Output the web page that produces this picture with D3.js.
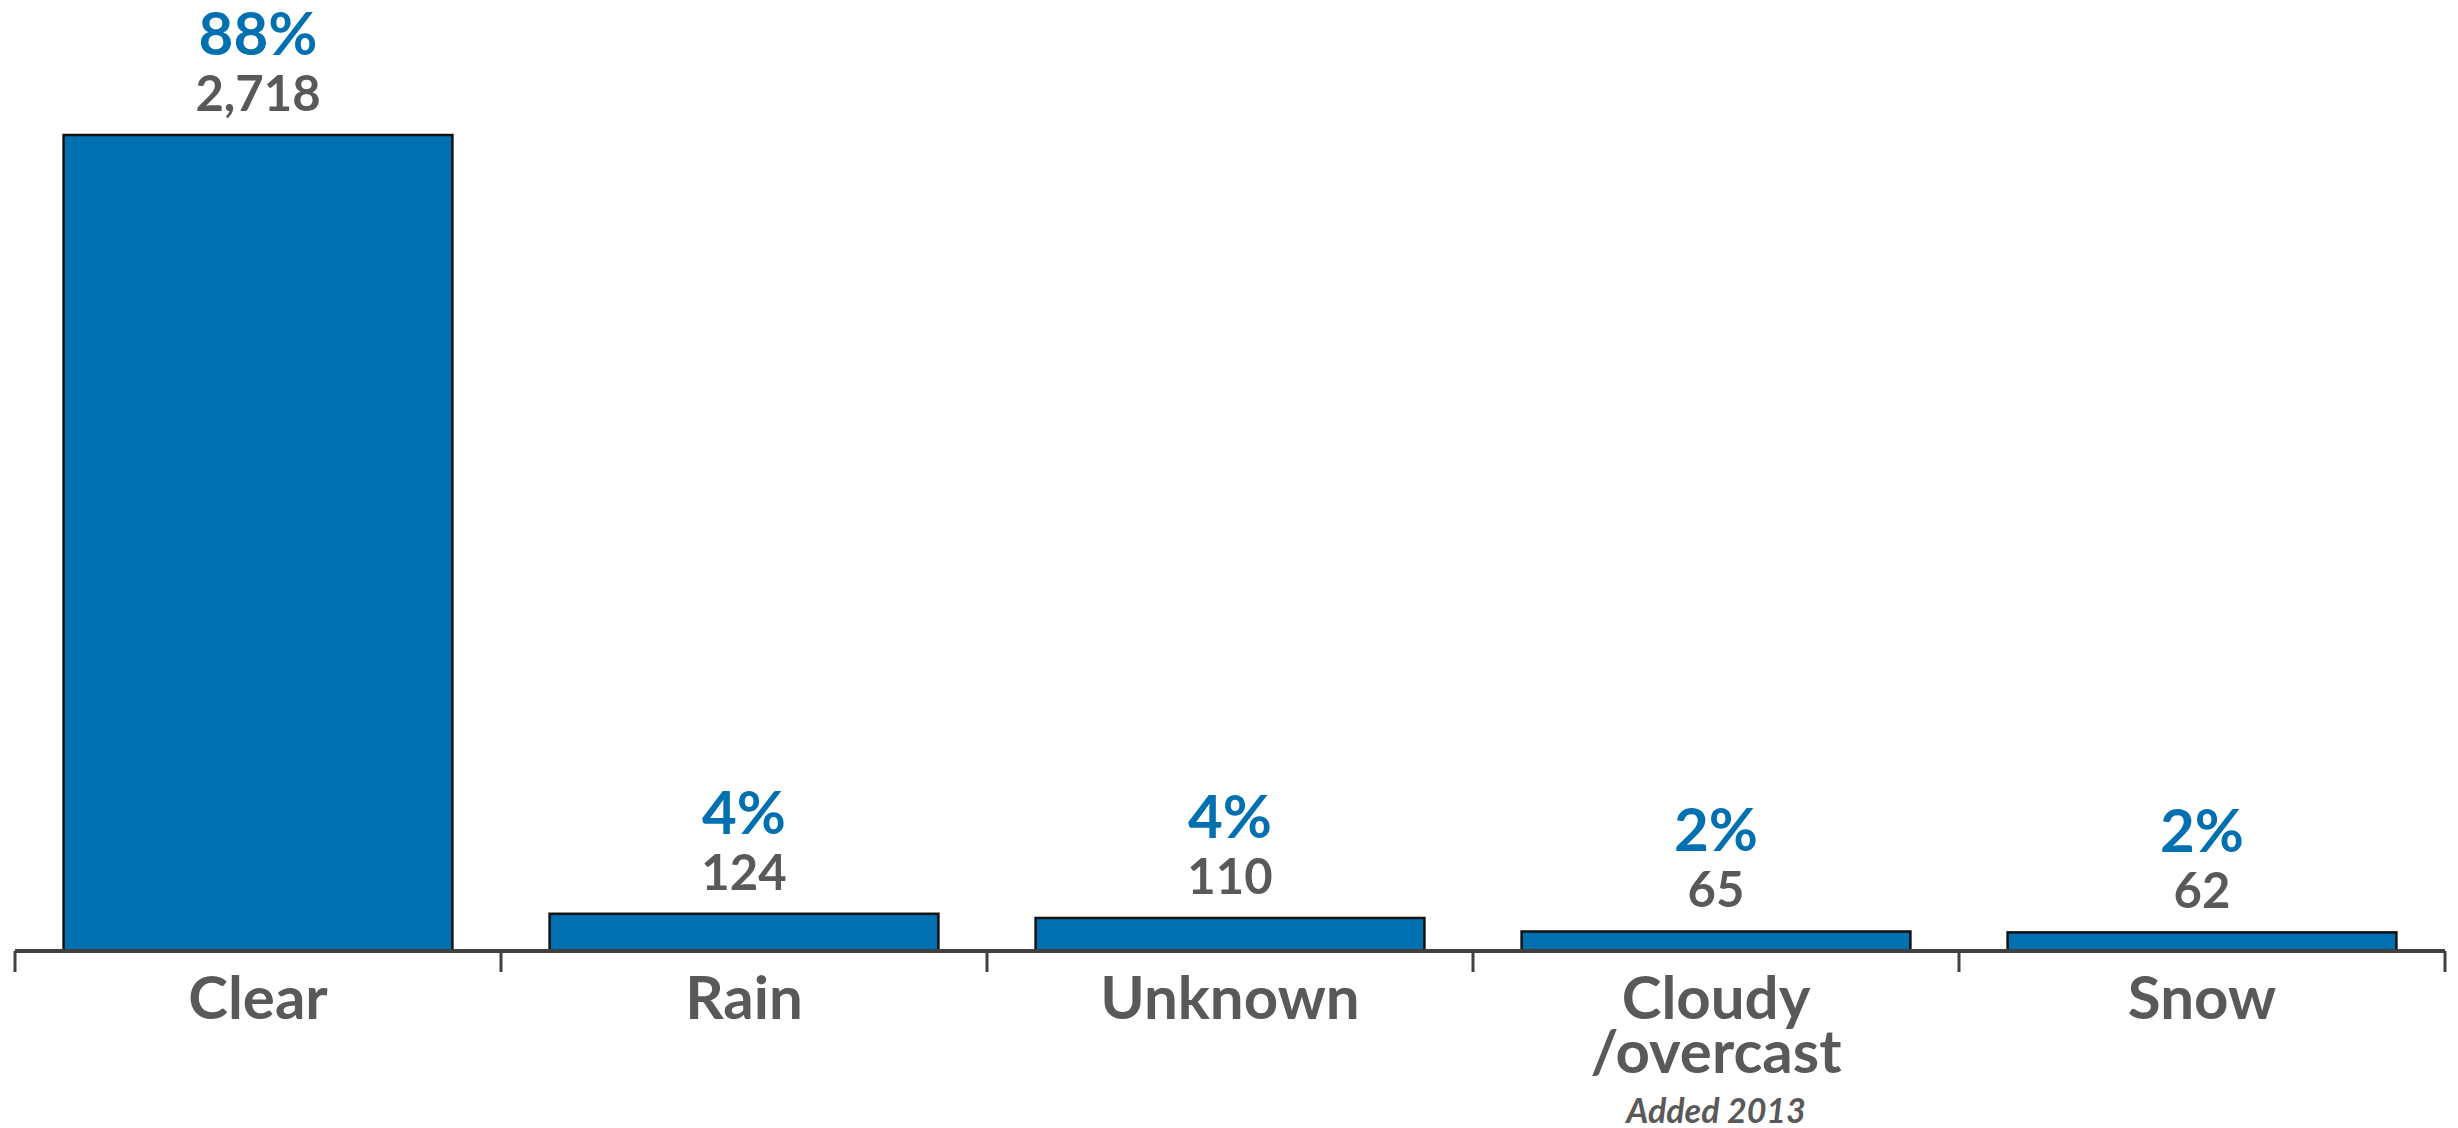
<!DOCTYPE html>
<html>
<head>
<meta charset="utf-8">
<script src="https://cdn.jsdelivr.net/npm/d3@7"></script>
<style>
  html, body { margin: 0; padding: 0; background: #ffffff; }
  svg { display: block; }
</style>
</head>
<body>
<svg id="chart" width="2458" height="1128"></svg>
<script>
// ---- data ----
const categories = ["Clear", "Rain", "Unknown", "Cloudy/overcast", "Snow"];
const categoryLines = [["Clear"], ["Rain"], ["Unknown"], ["Cloudy", "/overcast"], ["Snow"]];
const categoryNotes = ["", "", "", "Added 2013", ""];
const counts = [2718, 124, 110, 65, 62];
const percents = [88, 4, 4, 2, 2];

// ---- layout ----
const W = 2458, H = 1128;
const axisY = 951, topY = 135;
const left = 15, right = 2445;
const blue = "#0070B0", gray = "#595959", axisColor = "#404040";
const font = "Lato, 'Open Sans', sans-serif";

const svg = d3.select("#chart");

const x = d3.scaleBand().domain(categories).range([left, right])
  .paddingInner(0.2).paddingOuter(0.1);
const y = d3.scaleLinear().domain([0, d3.max(counts)]).range([axisY, topY]);

const data = categories.map((c, i) => ({
  cat: c, count: counts[i], pct: percents[i], lines: categoryLines[i], note: categoryNotes[i]
}));

// bars
svg.append("g").selectAll("rect").data(data).join("rect")
  .attr("x", d => x(d.cat))
  .attr("y", d => y(d.count))
  .attr("width", x.bandwidth())
  .attr("height", d => y(0) - y(d.count))
  .attr("fill", blue)
  .attr("stroke", "#111")
  .attr("stroke-width", 2.5);

// axis line
svg.append("line")
  .attr("x1", left).attr("x2", right)
  .attr("y1", axisY).attr("y2", axisY)
  .attr("stroke", axisColor).attr("stroke-width", 4);

// ticks at band boundaries
const step = x.step();
const tickXs = d3.range(categories.length + 1).map(i => left + i * step);
svg.append("g").selectAll("line").data(tickXs).join("line")
  .attr("x1", d => d).attr("x2", d => d)
  .attr("y1", axisY).attr("y2", axisY + 21)
  .attr("stroke", axisColor).attr("stroke-width", 3);

// value labels
const lbl = svg.append("g").attr("text-anchor", "middle").style("font-family", font).style("font-weight", 700);
lbl.selectAll("text.pct").data(data).join("text").attr("class", "pct")
  .attr("x", d => x(d.cat) + x.bandwidth() / 2)
  .attr("y", d => y(d.count) - 80)
  .attr("fill", blue)
  .style("font-size", "60px")
  .text(d => d.pct + "%");
lbl.selectAll("text.cnt").data(data).join("text").attr("class", "cnt")
  .attr("x", d => x(d.cat) + x.bandwidth() / 2)
  .attr("y", d => y(d.count) - 24)
  .attr("fill", gray)
  .style("font-size", "49px")
  .text(d => d3.format(",")(d.count));

// category labels
const cl = svg.append("g").attr("text-anchor", "middle").style("font-family", font).style("font-weight", 700);
data.forEach(d => {
  const cx = x(d.cat) + x.bandwidth() / 2;
  const t = cl.append("text").attr("fill", gray).style("font-size", "60px");
  d.lines.forEach((ln, j) => {
    t.append("tspan").attr("x", cx).attr("y", 1019 + j * 54).text(ln);
  });
  if (d.note) {
    cl.append("text").attr("x", cx).attr("y", 1019 + d.lines.length * 54 - 4)
      .attr("fill", gray).style("font-size", "34px").style("font-style", "italic")
      .text(d.note);
  }
});
</script>
</body>
</html>
